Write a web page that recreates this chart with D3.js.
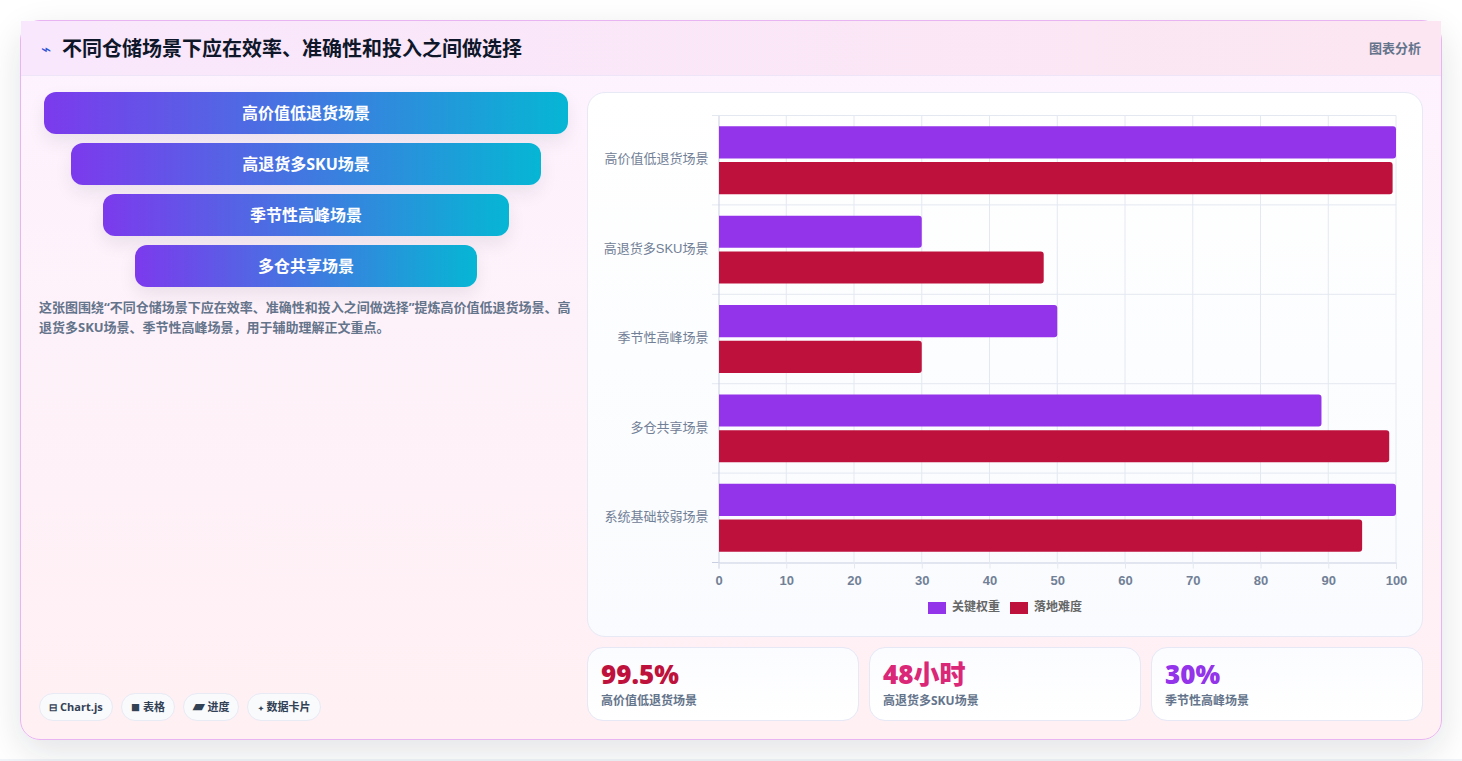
<!DOCTYPE html>
<html lang="zh"><head><meta charset="utf-8">
<script src="https://cdn.jsdelivr.net/npm/d3@7/dist/d3.min.js"></script>
<style>
*{box-sizing:border-box}
html,body{margin:0;padding:0;width:1462px;height:761px;overflow:hidden;background:#fff;font-family:"Open Sans","Noto Sans CJK SC",sans-serif}
.page{position:absolute;left:0;top:0;width:1462px;height:759px;background:#fff}
.foot{position:absolute;left:0;top:759px;width:1462px;height:2px;background:#f1f5f9}
.card{position:absolute;left:20px;top:20px;width:1422px;height:720px;border:1px solid #e9b4f2;border-radius:20px;background:linear-gradient(180deg,#fdf3ff 0%,#fff0f3 100%);box-shadow:0 12px 36px rgba(15,23,42,.12)}
.head{position:absolute;left:0;top:0;width:1420px;height:55px;background:linear-gradient(90deg,#f9e7fd,#fbe6f1);border-bottom:1px solid #eee6f8}
.icon{position:absolute;left:20px;top:19px;font-size:17px;line-height:18px;color:#2f55d4;font-weight:400}
.title{position:absolute;left:41px;top:13px;font-size:20px;line-height:30px;font-weight:700;color:#0f172a;white-space:nowrap}
.tag{position:absolute;right:20px;top:17px;font-size:13px;line-height:20px;font-weight:700;color:#64748b}
.fun{position:absolute;height:42px;border-radius:12px;background:linear-gradient(90deg,#7c3aed,#06b6d4);color:#fff;font-size:16px;font-weight:700;line-height:42px;text-align:center;box-shadow:0 8px 18px rgba(15,23,42,.08)}
.note{position:absolute;left:18px;top:276px;width:536px;font-size:13px;line-height:20px;font-weight:700;color:#64748b}
.pill{position:absolute;top:672px;height:28px;border:1px solid #e8eaf4;border-radius:14px;background:#f8fafc;font-size:11px;font-weight:700;line-height:26px;color:#334155;text-align:center;white-space:nowrap}
.panel{position:absolute;left:566px;top:71px;width:836px;height:545px;border:1px solid #e7e9f5;border-radius:18px;background:linear-gradient(180deg,#ffffff,#f9fbfe)}
.kpi{position:absolute;top:626px;width:272px;height:74px;border:1px solid #e6e8f6;border-radius:16px;background:linear-gradient(180deg,#fbfcff,#ffffff)}
.kv{position:absolute;left:13px;top:9px;font-size:26px;line-height:34px;font-weight:800;white-space:nowrap}
.kl{position:absolute;left:13px;top:44px;font-size:12px;line-height:18px;font-weight:700;color:#64748b;white-space:nowrap}
svg{position:absolute;left:0;top:0}
svg text{font-family:"Liberation Sans","Noto Sans CJK SC",sans-serif}
</style></head><body>
<div class="page"></div><div class="foot"></div>
<div class="card" id="card">
 <div class="head"><div class="icon">⌁</div><div class="title" id="title"></div><div class="tag" id="tag"></div></div>
</div>
<svg id="chart" width="1462" height="761"></svg>
<script>
const chartTitle = "不同仓储场景下应在效率、准确性和投入之间做选择";
const chartTag = "图表分析";
const categories = ["高价值低退货场景","高退货多SKU场景","季节性高峰场景","多仓共享场景","系统基础较弱场景"];
const seriesNames = ["关键权重","落地难度"];
const seriesColors = ["#9333ea","#be123c"];
const keyWeight = [100,30,50,89,100];
const difficulty = [99.5,48,30,99,95];
const xTicks = [0,10,20,30,40,50,60,70,80,90,100];
const funnelLabels = ["高价值低退货场景","高退货多SKU场景","季节性高峰场景","多仓共享场景"];
const funnelShares = [524,470,406,342];
const noteText = "这张图围绕“不同仓储场景下应在效率、准确性和投入之间做选择”提炼高价值低退货场景、高退货多SKU场景、季节性高峰场景\uFF0C用于辅助理解正文重点。";
const pillIcons = ["⊟","■","▰","✦"];
const pillTexts = ["Chart.js","表格","进度","数据卡片"];
const pillIconSize = [10,9,15,7];
const pillLeft = [18,100,162,226];
const pillWidth = [74,54,56,74];
const kpiValues = ["99.5%","48小时","30%"];
const kpiLabels = ["高价值低退货场景","高退货多SKU场景","季节性高峰场景"];
const kpiColors = ["#be123c","#db2777","#9333ea"];

const card = d3.select("#card");
d3.select("#title").text(chartTitle);
d3.select("#tag").text(chartTag);

funnelLabels.forEach((t,i)=>{
  const w = funnelShares[i];
  card.append("div").attr("class","fun").text(t)
    .style("left",(285-w/2)+"px").style("top",(71+i*51)+"px").style("width",w+"px");
});
card.append("div").attr("class","note").text(noteText);
pillTexts.forEach((t,i)=>{
  const p = card.append("div").attr("class","pill").style("left",pillLeft[i]+"px").style("width",pillWidth[i]+"px");
  p.append("span").style("font-size",pillIconSize[i]+"px").style("line-height","10px").text(pillIcons[i]);
  p.append("span").text(" "+t);
});
card.append("div").attr("class","panel");
kpiValues.forEach((v,i)=>{
  const k = card.append("div").attr("class","kpi").style("left",(566+i*282)+"px");
  k.append("div").attr("class","kv").style("color",kpiColors[i]).text(v);
  k.append("div").attr("class","kl").text(kpiLabels[i]);
});

// chart
const svg = d3.select("#chart");
const x = d3.scaleLinear().domain([0,100]).range([718.5,1396]);
const y0 = d3.scaleBand().domain(categories).range([115.5,562.5]);
const y1 = d3.scaleBand().domain(seriesNames).range([0,y0.bandwidth()]).paddingInner(0.1).paddingOuter(0.3);
const grid = "#e4e8f1", axisCol = "#c9cfe0";

// vertical grid + bottom axis
const gx = svg.append("g").attr("transform","translate(0,562.5)")
  .call(d3.axisBottom(x).tickValues(xTicks).tickSize(6).tickPadding(7));
gx.select(".domain").attr("stroke",axisCol);
gx.selectAll(".tick line").attr("stroke",grid);
gx.selectAll("text").attr("fill","#718096").attr("font-size",13).attr("font-weight",700);
svg.append("g").selectAll("line").data(xTicks.slice(1)).join("line")
  .attr("x1",d=>x(d)).attr("x2",d=>x(d)).attr("y1",115.5).attr("y2",562.5).attr("stroke",grid);

// horizontal grid + left axis
const bounds = categories.map(c=>y0(c));
svg.append("g").selectAll("line").data(bounds).join("line")
  .attr("x1",712).attr("x2",1396).attr("y1",d=>d).attr("y2",d=>d).attr("stroke",grid);
const gy = svg.append("g").attr("transform","translate(718.5,0)")
  .call(d3.axisLeft(y0).tickSize(0).tickPadding(10));
gy.select(".domain").attr("stroke",axisCol);
gy.selectAll("text").attr("fill","#718096").attr("font-size",13).attr("y",-1);
svg.append("line").attr("x1",712).attr("x2",718.5).attr("y1",562.5).attr("y2",562.5).attr("stroke",axisCol);

// bars
const barPath = (v,top,h)=>{
  const l = x(0)+.5, r = x(v), rad = 3;
  return `M${l},${top}H${r-rad}Q${r},${top} ${r},${top+rad}V${top+h-rad}Q${r},${top+h} ${r-rad},${top+h}H${l}Z`;
};
[keyWeight,difficulty].forEach((vals,s)=>{
  svg.append("g").selectAll("path").data(vals).join("path")
    .attr("d",(d,i)=>barPath(d,y0(categories[i])+y1(seriesNames[s]),y1.bandwidth()))
    .attr("fill",seriesColors[s]);
});

// legend
const legendX = [928,1010];
seriesNames.forEach((n,i)=>{
  svg.append("rect").attr("x",legendX[i]).attr("y",602).attr("width",18).attr("height",12).attr("fill",seriesColors[i]);
  svg.append("text").attr("x",legendX[i]+24).attr("y",611).attr("fill","#666").attr("font-size",12).attr("font-weight",700).text(n);
});
</script>
</body></html>
